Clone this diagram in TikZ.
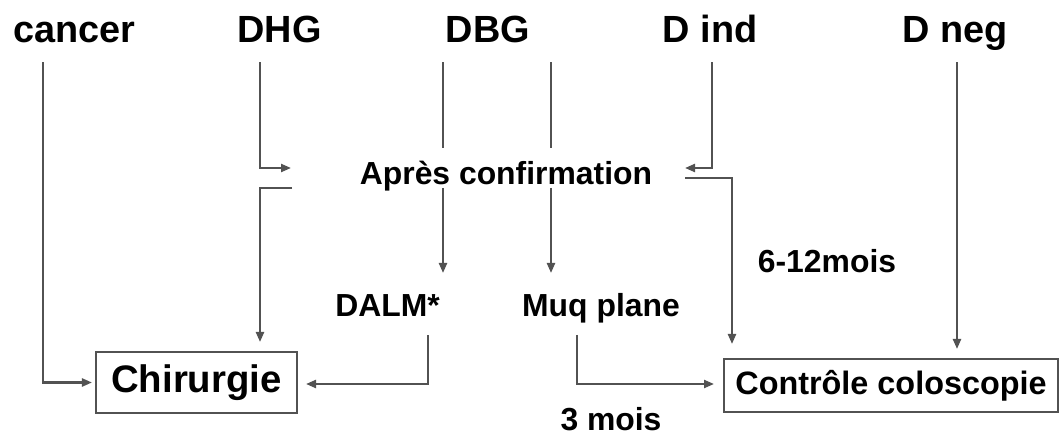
\documentclass[tikz,border=0pt]{standalone}
\usepackage{fontspec}
\setmainfont{Liberation Sans}
\usetikzlibrary{arrows.meta}
\begin{document}
\begin{tikzpicture}[x=1bp,y=-1bp,
  line/.style={draw=black!68, line width=2.2bp},
  arr/.style={line, -{Triangle[length=10bp,width=8bp]}},
  toplabel/.style={font=\bfseries\fontsize{38}{40}\selectfont, anchor=base,
    inner xsep=0pt, inner ysep=9bp, text depth=10bp},
  midlabel/.style={font=\bfseries\fontsize{32}{34}\selectfont, anchor=base, inner sep=0pt},
  boxnode/.style={draw=black!68, line width=2bp, inner sep=0pt}
]
\useasboundingbox (0,0) rectangle (1059,435);
% top labels
\node[toplabel] (cancer) at (74.5,43) {cancer};
\node[toplabel] (DHG) at (279.5,43) {DHG};
\node[toplabel] (DBG) at (488,43) {DBG};
\node[toplabel] (Dind) at (710,43) {D ind};
\node[toplabel] (Dneg) at (955,43) {D neg};
% middle labels
\node[midlabel] (conf) at (506,185) {Après confirmation};
\node[midlabel] (dalm) at (387.5,317) {DALM*};
\node[midlabel] (muq) at (601,317) {Muq plane};
\node[midlabel] (m612) at (827,273) {6-12mois};
\node[midlabel] (m3) at (611,430) {3 mois};
% boxes
\node[boxnode, minimum width=201bp, minimum height=61bp,
      font=\bfseries\fontsize{38.5}{40}\selectfont] (chir) at (196.5,382.5) {Chirurgie};
\node[boxnode, minimum width=334bp, minimum height=53bp,
      font=\bfseries\fontsize{32.5}{34}\selectfont] (ctrl) at (891,385.5) {Contrôle coloscopie};
% helper coordinates
\coordinate (c0) at (43,62);
\coordinate (h0) at (260,62);
\coordinate (h1) at (260,168);
\coordinate (h2) at (291,168);
\coordinate (h3) at (292,188);
\coordinate (h4) at (260,188);
\coordinate (bA) at (443,148);
\coordinate (bB) at (443,188);
\coordinate (b1) at (443,273);
\coordinate (bC) at (551,148);
\coordinate (bD) at (551,188);
\coordinate (b3) at (551,273);
\coordinate (i1) at (712,168);
\coordinate (i2) at (685,168);
\coordinate (i3) at (685,178);
\coordinate (i4) at (732,178);
\coordinate (n0) at (957,62);
\coordinate (d1) at (428,384);
\coordinate (q1) at (577,384);
% connectors
\draw[arr, shorten >=3bp] (cancer.south -| c0) |- (chir.west);
\draw[arr] (DHG.south -| h0) -- (h1) -- (h2);
\draw[arr, shorten >=9bp] (h3) -- (h4) -- (h4 |- chir.north);
\draw[line] (DBG.south -| bA) -- (bA);
\draw[arr] (bB) -- (b1);
\draw[line] (DBG.south -| bC) -- (bC);
\draw[arr] (bD) -- (b3);
\draw[arr] (Dind.south -| i1) -- (i1) -- (i2);
\draw[arr, shorten >=14bp] (i3) -- (i4) -- (i4 |- ctrl.north);
\draw[arr, shorten >=9bp] (Dneg.south -| n0) -- (n0 |- ctrl.north);
\draw[arr, shorten >=8bp] (dalm.south -| d1) ++(0,18) -- (d1) -- (d1 -| chir.east);
\draw[arr, shorten >=9bp] (muq.south -| q1) ++(0,11) -- (q1) -- (q1 -| ctrl.west);
\end{tikzpicture}
\end{document}
